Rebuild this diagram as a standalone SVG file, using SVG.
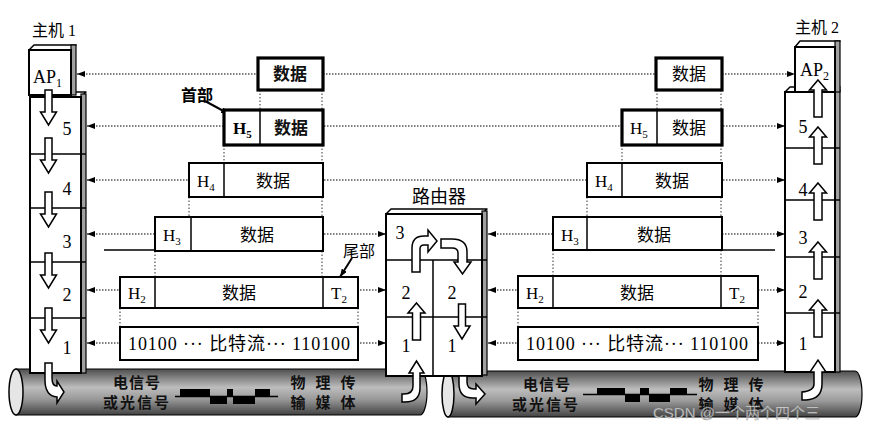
<svg xmlns="http://www.w3.org/2000/svg" width="880" height="429" viewBox="0 0 880 429">
<defs>
<style>
.t{font-family:"Liberation Serif","Noto Sans CJK SC",serif;fill:#000}
.c{font-family:"Noto Sans CJK SC","Liberation Sans",sans-serif;fill:#000}
.num{font-size:18px;text-anchor:middle}
.box{fill:#fff;stroke:#000;stroke-width:2}
.bold{stroke-width:3.2}
.div{stroke:#000;stroke-width:1.5}
.dot{fill:none;stroke:#000;stroke-width:1.2;stroke-dasharray:1.5 1.5}
.vdot{fill:none;stroke:#333;stroke-width:1;stroke-dasharray:1.5 2}
.front{fill:#fff;stroke:#000;stroke-width:2}
.side{fill:#a0a0a0;stroke:#000;stroke-width:1.2}
.top{fill:#fff;stroke:#000;stroke-width:1.5;stroke-linejoin:round}
.sep{stroke:#000;stroke-width:1.5}
.arr{fill:#fff;stroke:#000;stroke-width:1.5}
.cyl{fill:url(#g);stroke:#000;stroke-width:1.2}
.end{fill:#e6e6e6;stroke:#000;stroke-width:1.5}
.dt{font-size:17px;text-anchor:middle}
.ct{font-size:17px;font-weight:bold;text-anchor:middle;fill:#111}
.mt{font-size:15px;font-weight:bold;text-anchor:middle;fill:#111}
.wave{fill:#000}
.base{stroke:#000;stroke-width:1.5}
</style>
<marker id="ah" viewBox="0 0 8 6" refX="8" refY="3" markerWidth="8" markerHeight="6" orient="auto-start-reverse" markerUnits="userSpaceOnUse"><path d="M0,0 L8,3 L0,6 z" fill="#000"/></marker>
<linearGradient id="g" x1="0" y1="0" x2="0" y2="1"><stop offset="0" stop-color="#4e4e4e"/><stop offset="0.4" stop-color="#bdbdbd"/><stop offset="0.65" stop-color="#9a9a9a"/><stop offset="1" stop-color="#424242"/></linearGradient>
<path id="da" d="M-3.5,0 L3.5,0 L3.5,22 L8,22 L0,35 L-8,22 L-3.5,22 Z"/>
<path id="ua" d="M0,0 L8.5,10 L4,10 L4,37 L-4,37 L-4,10 L-8.5,10 Z"/>
</defs>
<rect width="880" height="429" fill="#fff"/>

<g id="medium">
<path class="cyl" d="M16,369 L420,369 A7,23 0 0 1 420,415 L16,415 Z"/>
<ellipse class="end" cx="16" cy="392" rx="7" ry="23"/>
<path class="cyl" d="M448,371 L855,371 A7,23 0 0 1 855,417 L448,417 Z"/>
<ellipse class="end" cx="448" cy="394" rx="6" ry="23"/>
<text class="c mt" x="137" y="388" letter-spacing="1">电信号</text>
<text class="c mt" x="137" y="408" letter-spacing="2">或光信号</text>
<text class="c mt" x="298 323 348" y="388">物理传</text>
<text class="c mt" x="298 323 348" y="408">输媒体</text>
<line class="base" x1="175" y1="396.5" x2="278" y2="396.5"/>
<rect class="wave" x="180" y="389" width="30" height="7"/>
<rect class="wave" x="210" y="396" width="17" height="8"/>
<rect class="wave" x="227" y="389" width="6" height="7"/>
<rect class="wave" x="233" y="396" width="22" height="8"/>
<rect class="wave" x="255" y="389" width="15" height="7"/>
<text class="c mt" x="547" y="390" letter-spacing="1">电信号</text>
<text class="c mt" x="546" y="410" letter-spacing="2">或光信号</text>
<text class="c mt" x="706 731 756" y="390">物理传</text>
<text class="c mt" x="706 731 756" y="410">输媒体</text>
<line class="base" x1="583" y1="394.5" x2="697" y2="394.5"/>
<rect class="wave" x="597" y="388" width="28" height="6.5"/>
<rect class="wave" x="625" y="394" width="15" height="8"/>
<rect class="wave" x="640" y="388" width="9" height="6.5"/>
<rect class="wave" x="649" y="394" width="21" height="8"/>
<rect class="wave" x="670" y="388" width="17" height="6.5"/>
</g>

<g id="connectors">
<line class="dot" x1="77" y1="74" x2="795" y2="74" marker-start="url(#ah)" marker-end="url(#ah)"/>
<line class="dot" x1="87" y1="126" x2="785" y2="126" marker-start="url(#ah)" marker-end="url(#ah)"/>
<line class="dot" x1="87" y1="180" x2="785" y2="180" marker-start="url(#ah)" marker-end="url(#ah)"/>
<line class="dot" x1="87" y1="234" x2="386" y2="234" marker-start="url(#ah)" marker-end="url(#ah)"/>
<line class="dot" x1="87" y1="290" x2="386" y2="290" marker-start="url(#ah)" marker-end="url(#ah)"/>
<line class="dot" x1="87" y1="343" x2="386" y2="343" marker-start="url(#ah)" marker-end="url(#ah)"/>
<line class="dot" x1="488" y1="234" x2="785" y2="234" marker-start="url(#ah)" marker-end="url(#ah)"/>
<line class="dot" x1="488" y1="290" x2="785" y2="290" marker-start="url(#ah)" marker-end="url(#ah)"/>
<line class="dot" x1="488" y1="343" x2="785" y2="343" marker-start="url(#ah)" marker-end="url(#ah)"/>
<line x1="205" y1="101" x2="229" y2="114" stroke="#000" stroke-width="2" marker-end="url(#ah)"/>
<line x1="352" y1="258" x2="340" y2="277" stroke="#000" stroke-width="2" marker-end="url(#ah)"/>
<g class="vdot">
<path d="M260,90V110 M322,90V110 M224,145V163 M322,145V163 M189,197V217 M322,197V217 M155,251V277 M322,251V277 M120,308V327 M358,308V327"/>
<path d="M657,90V110 M721,90V110 M622,145V163 M721,145V163 M587,197V217 M721,197V217 M553,250V276 M721,250V276 M518,308V327 M758,308V327"/>
</g>
<line x1="104" y1="250" x2="156" y2="250" stroke="#000" stroke-width="1.5"/>
<line x1="721" y1="250" x2="775" y2="250" stroke="#000" stroke-width="1.5"/>
</g>

<g id="host1">
<text class="t" x="32" y="36" font-size="16">主机 1</text>
<polygon class="top" points="30,97 35,92 86,92 81,97"/>
<rect class="side" x="81" y="94" width="5" height="279"/>
<rect class="front" x="30" y="97" width="51" height="276"/>
<path class="sep" d="M30,154H86 M30,208H86 M30,262H86 M30,318H86"/>
<polygon class="top" points="29,50 34,45 76,45 71,50"/>
<rect class="side" x="71" y="45" width="5" height="50"/>
<rect class="front" x="29" y="50" width="42" height="45"/>
<text class="t" x="33" y="83" font-size="18">AP<tspan font-size="12" dy="4">1</tspan></text>
<text class="t num" x="67" y="135">5</text>
<text class="t num" x="67" y="195">4</text>
<text class="t num" x="67" y="248">3</text>
<text class="t num" x="67" y="301">2</text>
<text class="t num" x="67" y="354">1</text>
<use href="#da" class="arr" x="48.5" y="90"/>
<use href="#da" class="arr" x="48.5" y="138"/>
<use href="#da" class="arr" x="48.5" y="192"/>
<use href="#da" class="arr" x="48.5" y="253"/>
<use href="#da" class="arr" x="48.5" y="308"/>
<path class="arr" d="M45,363 L52,363 L52,378 Q52,386 57,386 L57,381 L64,392 L57,403 L57,397 Q45,396 45,380 Z"/>
</g>

<g id="host2">
<text class="t" x="795" y="33" font-size="16">主机 2</text>
<polygon class="top" points="785,92 790,87 840,87 835,92"/>
<rect class="side" x="835" y="89" width="5" height="283"/>
<rect class="front" x="785" y="92" width="50" height="280"/>
<path class="sep" d="M785,148H840 M785,200H840 M785,257H840 M785,313H840"/>
<polygon class="top" points="795,47 800,41 840,41 835,47"/>
<rect class="side" x="835" y="41" width="5" height="51"/>
<rect class="front" x="795" y="47" width="40" height="45"/>
<text class="t" x="800" y="76" font-size="18">AP<tspan font-size="12" dy="4">2</tspan></text>
<text class="t num" x="803" y="133">5</text>
<text class="t num" x="803" y="196">4</text>
<text class="t num" x="803" y="244">3</text>
<text class="t num" x="803" y="298">2</text>
<text class="t num" x="803" y="350">1</text>
<use href="#ua" class="arr" x="818" y="80"/>
<use href="#ua" class="arr" x="818" y="127"/>
<use href="#ua" class="arr" x="818" y="183"/>
<use href="#ua" class="arr" x="818" y="242"/>
<use href="#ua" class="arr" x="818" y="300"/>
<path class="arr" d="M814,372 L810,372 L818,360 L826,372 L822,372 L822,384 Q822,399 806,400 L802,400 L802,392 Q814,391 814,384 Z"/>
</g>

<g id="router">
<text class="t" x="439" y="203" font-size="18" text-anchor="middle">路由器</text>
<polygon class="top" points="386,214 391,209 487,209 482,214"/>
<rect class="side" x="482" y="211" width="5" height="164"/>
<rect class="front" x="386" y="214" width="96" height="162"/>
<path class="sep" d="M386,260H487 M386,317H487 M433,260V376"/>
<text class="t num" x="400" y="239">3</text>
<text class="t num" x="406" y="299">2</text>
<text class="t num" x="452" y="299">2</text>
<text class="t num" x="406" y="352">1</text>
<text class="t num" x="452" y="352">1</text>
<path class="arr" d="M412,272 L412,248 Q412,236 424,236 L428,236 L428,230 L437,241 L428,252 L428,245 L424,245 Q420,245 420,249 L420,272 Z"/>
<path class="arr" d="M441,239 L452,239 Q467,239 467,252 L467,262 L471,262 L462.5,274 L454,262 L458,262 L458,253 Q458,248 452,248 L441,248 Z"/>
<use href="#ua" class="arr" x="416.5" y="303"/>
<use href="#da" class="arr" x="462" y="304"/>
<path class="arr" d="M413,373 L409,373 L416.5,361 L424,373 L420,373 L420,388 Q420,402 405,402 L402,402 L402,394 L404,394 Q413,394 413,386 Z"/>
<path class="arr" d="M459,376 L467,376 L467,382 Q467,389 474,389 L476,389 L476,384 L485,394 L476,404 L476,398 L473,398 Q459,398 459,384 Z"/>
</g>

<g id="pdu-left">
<text class="t" x="197" y="101" font-size="16" text-anchor="middle" font-weight="bold">首部</text>
<rect class="box bold" x="258" y="58" width="65" height="32"/>
<text class="c ct" x="290" y="80">数据</text>
<rect class="box bold" x="224" y="110" width="99" height="35"/>
<line class="div" x1="260" y1="110" x2="260" y2="145"/>
<text class="t" x="233" y="134" font-size="17" font-weight="bold">H<tspan font-size="11" dy="4">5</tspan></text>
<text class="c ct" x="291" y="134">数据</text>
<rect class="box" x="189" y="163" width="134" height="34"/>
<line class="div" x1="224" y1="163" x2="224" y2="197"/>
<text class="t" x="197" y="187" font-size="17">H<tspan font-size="11" dy="4">4</tspan></text>
<text class="c dt" x="273" y="187">数据</text>
<rect class="box" x="155" y="217" width="168" height="34"/>
<line class="div" x1="191" y1="217" x2="191" y2="251"/>
<text class="t" x="163" y="241" font-size="17">H<tspan font-size="11" dy="4">3</tspan></text>
<text class="c dt" x="257" y="241">数据</text>
<text class="t" x="359" y="257" font-size="16" text-anchor="middle">尾部</text>
<rect class="box" x="120" y="277" width="238" height="31"/>
<line class="div" x1="155" y1="277" x2="155" y2="308"/>
<line class="div" x1="323" y1="277" x2="323" y2="308"/>
<text class="t" x="128" y="299" font-size="17">H<tspan font-size="11" dy="4">2</tspan></text>
<text class="c dt" x="239" y="299">数据</text>
<text class="t" x="331" y="299" font-size="17">T<tspan font-size="11" dy="4">2</tspan></text>
<rect class="box" x="120" y="327" width="238" height="33"/>
<text class="t" x="128" y="350" font-size="18" textLength="222" lengthAdjust="spacing">10100 ··· 比特流··· 110100</text>
</g>

<g id="pdu-right">
<rect class="box bold" x="656" y="58" width="66" height="32"/>
<text class="c dt" x="689" y="80">数据</text>
<rect class="box bold" x="622" y="110" width="100" height="35"/>
<line class="div" x1="657" y1="110" x2="657" y2="145"/>
<text class="t" x="630" y="134" font-size="17">H<tspan font-size="11" dy="4">5</tspan></text>
<text class="c dt" x="689" y="134">数据</text>
<rect class="box" x="587" y="163" width="135" height="34"/>
<line class="div" x1="622" y1="163" x2="622" y2="197"/>
<text class="t" x="595" y="187" font-size="17">H<tspan font-size="11" dy="4">4</tspan></text>
<text class="c dt" x="672" y="187">数据</text>
<rect class="box" x="553" y="217" width="169" height="33"/>
<line class="div" x1="587" y1="217" x2="587" y2="250"/>
<text class="t" x="561" y="241" font-size="17">H<tspan font-size="11" dy="4">3</tspan></text>
<text class="c dt" x="654" y="241">数据</text>
<rect class="box" x="518" y="276" width="240" height="32"/>
<line class="div" x1="553" y1="276" x2="553" y2="308"/>
<line class="div" x1="721" y1="276" x2="721" y2="308"/>
<text class="t" x="526" y="299" font-size="17">H<tspan font-size="11" dy="4">2</tspan></text>
<text class="c dt" x="637" y="299">数据</text>
<text class="t" x="729" y="299" font-size="17">T<tspan font-size="11" dy="4">2</tspan></text>
<rect class="box" x="518" y="327" width="240" height="33"/>
<text class="t" x="526" y="350" font-size="18" textLength="222" lengthAdjust="spacing">10100 ··· 比特流··· 110100</text>
</g>

<text x="653" y="418" font-family="'Liberation Sans','Noto Sans CJK SC',sans-serif" font-size="15" fill="#f0f0f0" stroke="#777" stroke-width="0.4" opacity="0.85">CSDN @一个两个四个三</text>
</svg>
